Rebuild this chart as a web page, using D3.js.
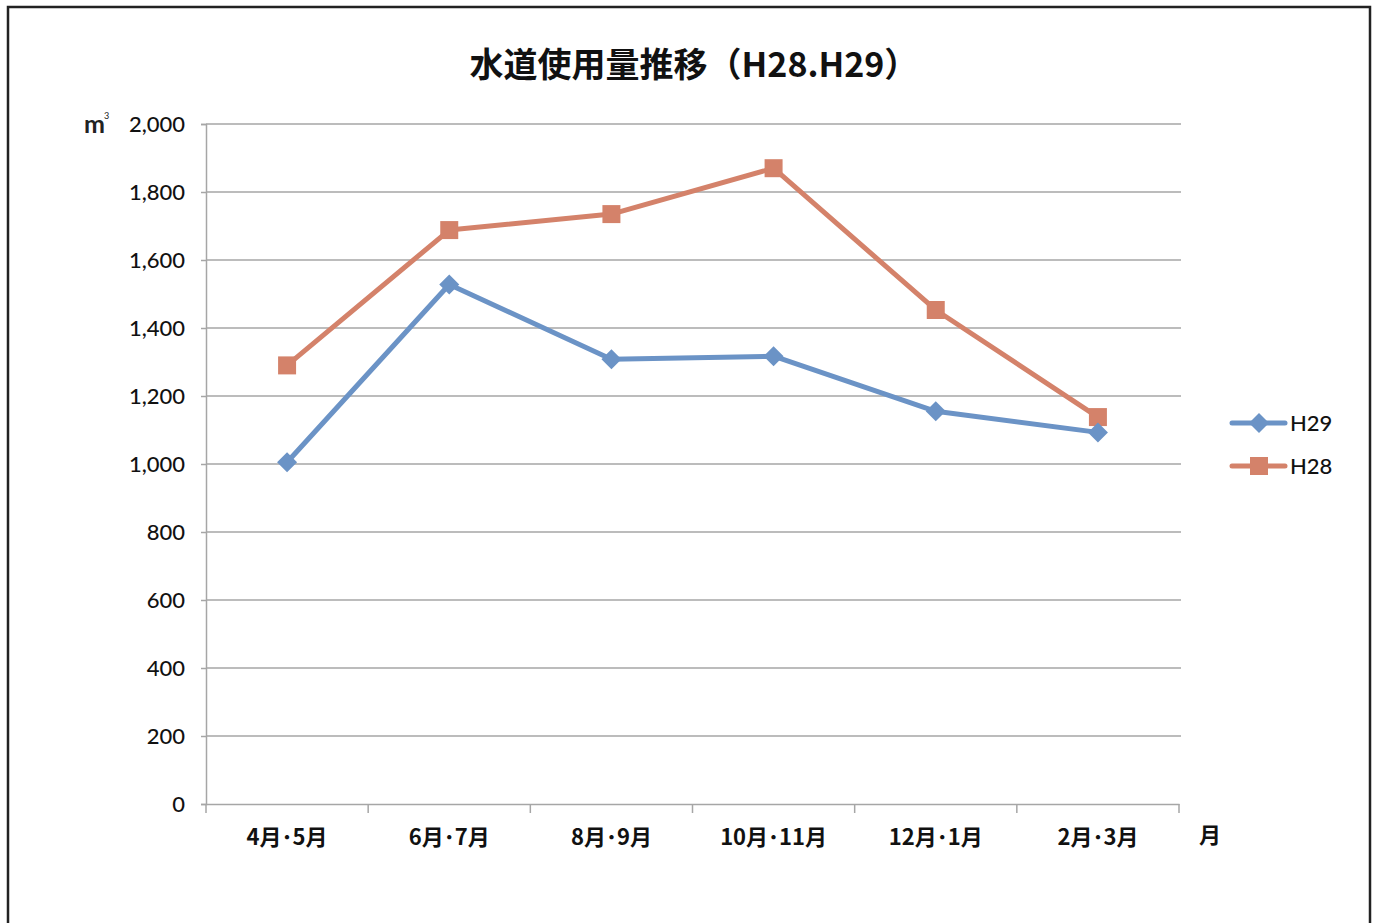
<!DOCTYPE html>
<html>
<head>
<meta charset="utf-8">
<script src="https://d3js.org/d3.v7.min.js"></script>
<style>
  body { margin: 0; background: #fff; }
  svg { display: block; }
</style>
</head>
<body>
<div id="chart"></div>
<script>
var categories = ["4月･5月", "6月･7月", "8月･9月", "10月･11月", "12月･1月", "2月･3月"];
var h29 = [1005, 1528, 1308, 1317, 1155, 1093];
var h28 = [1290, 1688, 1735, 1870, 1453, 1138];
var yTicks = [0, 200, 400, 600, 800, 1000, 1200, 1400, 1600, 1800, 2000];

var W = 1378, H = 923;
var BLUE = "#6b93c6", ORANGE = "#d4826a", GRID = "#a6a6a6";

var svg = d3.select("#chart").append("svg")
    .attr("width", W)
    .attr("height", H);

// scanned page frame
svg.append("rect")
    .attr("x", 8).attr("y", 7)
    .attr("width", 1362).attr("height", 940)
    .attr("fill", "none")
    .attr("stroke", "#222")
    .attr("stroke-width", 2.5);

var plotLeft = 206, plotRight = 1179, plotTop = 124, plotBottom = 804;

var x = d3.scaleBand().domain(categories).range([plotLeft, plotRight]);
var y = d3.scaleLinear().domain([0, 2000]).range([plotBottom, plotTop]);

// gridlines
svg.append("g").selectAll("line")
    .data(yTicks.slice(1))
    .enter().append("line")
    .attr("x1", plotLeft).attr("x2", plotRight + 2)
    .attr("y1", d => y(d)).attr("y2", d => y(d))
    .attr("stroke", GRID).attr("stroke-width", 1.5);

// y axis
var yAxis = svg.append("g")
    .attr("transform", "translate(" + plotLeft + ",0)")
    .call(d3.axisLeft(y).tickValues(yTicks).tickSize(5).tickPadding(16)
        .tickFormat(d3.format(",")));
yAxis.select(".domain").attr("stroke", GRID).attr("stroke-width", 1.5);
yAxis.selectAll(".tick line").attr("stroke", GRID).attr("stroke-width", 1.5);
yAxis.selectAll("text")
    .attr("font-family", "Lato, 'Open Sans', sans-serif")
    .attr("font-size", 22)
    .attr("font-weight", 500)
    .attr("fill", "#111");

// x axis
var xAxis = svg.append("g")
    .attr("transform", "translate(0," + plotBottom + ")")
    .call(d3.axisBottom(x).tickSize(0).tickPadding(25));
xAxis.select(".domain").attr("stroke", GRID).attr("stroke-width", 1.5);
xAxis.selectAll("text")
    .attr("font-family", "'Noto Sans CJK JP', sans-serif")
    .attr("font-weight", "bold")
    .attr("font-size", 22)
    .attr("fill", "#111");

// category boundary ticks
var bounds = categories.map(c => x(c)).concat([plotRight]);
svg.append("g").selectAll("line")
    .data(bounds)
    .enter().append("line")
    .attr("x1", d => d).attr("x2", d => d)
    .attr("y1", plotBottom).attr("y2", plotBottom + 9)
    .attr("stroke", GRID).attr("stroke-width", 1.5);

var cx = d => x(d) + x.bandwidth() / 2;

var line = d3.line()
    .x((d, i) => cx(categories[i]))
    .y(d => y(d));

var diamondPath = "M0,-10L10,0L0,10L-10,0Z";
var squarePath = "M-9,-9H9V9H-9Z";

// H28 series
svg.append("path")
    .datum(h28)
    .attr("d", line)
    .attr("fill", "none")
    .attr("stroke", ORANGE)
    .attr("stroke-width", 5)
    .attr("stroke-linejoin", "round");
svg.append("g").selectAll("path")
    .data(h28)
    .enter().append("path")
    .attr("d", squarePath)
    .attr("transform", (d, i) => "translate(" + cx(categories[i]) + "," + y(d) + ")")
    .attr("fill", ORANGE);

// H29 series
svg.append("path")
    .datum(h29)
    .attr("d", line)
    .attr("fill", "none")
    .attr("stroke", BLUE)
    .attr("stroke-width", 5)
    .attr("stroke-linejoin", "round");
svg.append("g").selectAll("path")
    .data(h29)
    .enter().append("path")
    .attr("d", diamondPath)
    .attr("transform", (d, i) => "translate(" + cx(categories[i]) + "," + y(d) + ")")
    .attr("fill", BLUE);

// title
svg.append("text")
    .attr("x", 694).attr("y", 77)
    .attr("text-anchor", "middle")
    .attr("font-family", "'Noto Sans CJK JP', sans-serif")
    .attr("font-weight", "bold")
    .attr("font-size", 34)
    .attr("fill", "#111")
    .text("水道使用量推移（H28.H29）");

// unit labels
svg.append("text")
    .attr("x", 84).attr("y", 133)
    .attr("font-family", "Lato, 'Open Sans', sans-serif")
    .attr("font-size", 25)
    .attr("font-weight", "bold")
    .attr("fill", "#222")
    .text("m");
svg.append("text")
    .attr("x", 104).attr("y", 119)
    .attr("font-family", "Lato, sans-serif")
    .attr("font-size", 9)
    .attr("fill", "#222")
    .text("3");
svg.append("text")
    .attr("x", 1199).attr("y", 843)
    .attr("font-family", "'Noto Sans CJK JP', sans-serif")
    .attr("font-weight", "bold")
    .attr("font-size", 22)
    .attr("fill", "#111")
    .text("月");

// legend
var legend = [
    {name: "H29", color: BLUE, shape: diamondPath},
    {name: "H28", color: ORANGE, shape: squarePath}
];
var lg = svg.append("g").selectAll("g")
    .data(legend)
    .enter().append("g")
    .attr("transform", (d, i) => "translate(1232," + (423 + i * 43) + ")");
lg.append("line")
    .attr("x1", 0).attr("x2", 53)
    .attr("stroke", d => d.color)
    .attr("stroke-width", 5)
    .attr("stroke-linecap", "round");
lg.append("path")
    .attr("d", d => d.shape)
    .attr("transform", "translate(27,0)")
    .attr("fill", d => d.color);
lg.append("text")
    .attr("x", 58).attr("y", 8)
    .attr("font-family", "Lato, 'Open Sans', sans-serif")
    .attr("font-size", 22)
    .attr("font-weight", 500)
    .attr("fill", "#111")
    .text(d => d.name);
</script>
</body>
</html>
